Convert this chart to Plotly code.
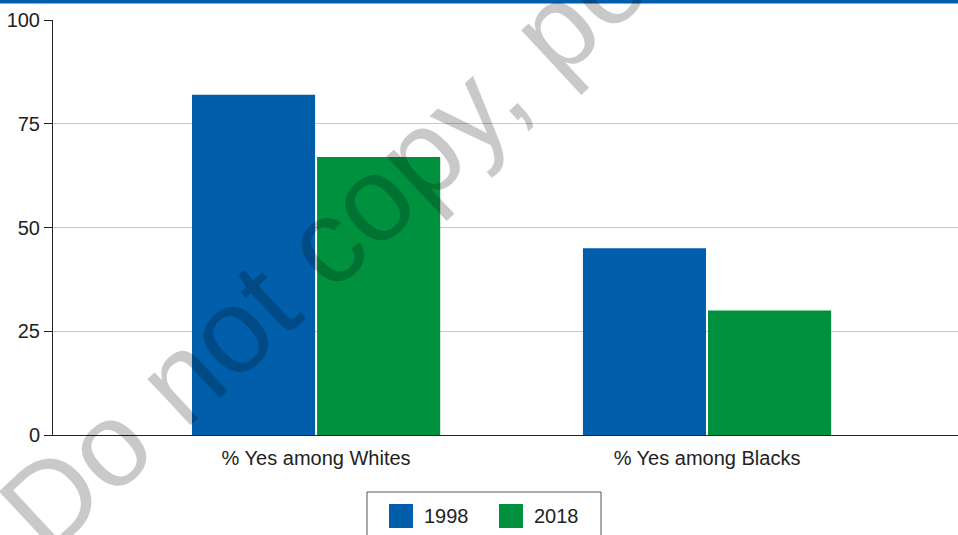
import plotly.graph_objects as go

categories = ["% Yes among Whites", "% Yes among Blacks"]
series_names = ["1998", "2018"]
values_1998 = [82, 45]
values_2018 = [67, 30]
colors = ["#005EAB", "#00913F"]
y_ticks = [0, 25, 50, 75, 100]

W, H = 958, 535
L, R, T, B = 53, 0, 20, 100
pw, ph = W - L - R, H - T - B

def px(x):
    return (x - L) / pw

def py(y):
    return (H - B - y) / ph

fig = go.Figure()
for name, vals, col in zip(series_names, [values_1998, values_2018], colors):
    fig.add_trace(go.Bar(x=categories, y=vals, name=name, marker_color=col,
                         marker_line_width=0, showlegend=False))

font = "Liberation Sans, Arial, Helvetica, sans-serif"
shapes = [
    # top blue band
    dict(type="rect", xref="paper", yref="paper", x0=px(0), x1=px(W), y0=py(3.5), y1=py(-2),
         fillcolor="#005EAB", line_width=0, layer="above"),
    # legend box
    dict(type="rect", xref="paper", yref="paper", x0=px(367), x1=px(601), y0=py(540), y1=py(492),
         fillcolor="rgba(0,0,0,0)", line=dict(color="#555555", width=1)),
]
annotations = []
sw_x = [389, 499]
for i, name in enumerate(series_names):
    shapes.append(dict(type="rect", xref="paper", yref="paper", x0=px(sw_x[i]), x1=px(sw_x[i] + 24),
                       y0=py(528), y1=py(504), fillcolor=colors[i], line_width=0))
    annotations.append(dict(xref="paper", yref="paper", x=px(sw_x[i] + 33), y=py(516), text=name,
                            showarrow=False, xanchor="left", yanchor="middle",
                            font=dict(family=font, size=20, color="#222222")))

# watermark
annotations.append(dict(xref="paper", yref="paper", x=px(611), y=py(-24),
                        text="Do not copy, post, or distribute", showarrow=False, textangle=-43,
                        font=dict(family=font, size=120, color="rgba(0,0,0,0.21)"),
                        xanchor="center", yanchor="middle"))

fig.update_layout(
    width=W, height=H,
    margin=dict(l=L, r=R, t=T, b=B, pad=0),
    paper_bgcolor="white", plot_bgcolor="white",
    barmode="group", bargap=0.36, bargroupgap=0.016,
    font=dict(family=font, size=20, color="#222222"),
    shapes=shapes, annotations=annotations,
    xaxis=dict(range=[-0.673, 1.642], showline=True, linecolor="#222222", linewidth=1,
               ticks="", showgrid=False, tickfont=dict(size=20, color="#222222"),
               ticklabelstandoff=5),
    yaxis=dict(range=[0, 100], tickvals=y_ticks, showline=True, linecolor="#222222", linewidth=1,
               ticks="outside", ticklen=8, tickcolor="#222222", gridcolor="#c8c8c8",
               zeroline=False, tickfont=dict(size=20, color="#222222"), ticklabelstandoff=0),
)

fig.write_html("out.html")
